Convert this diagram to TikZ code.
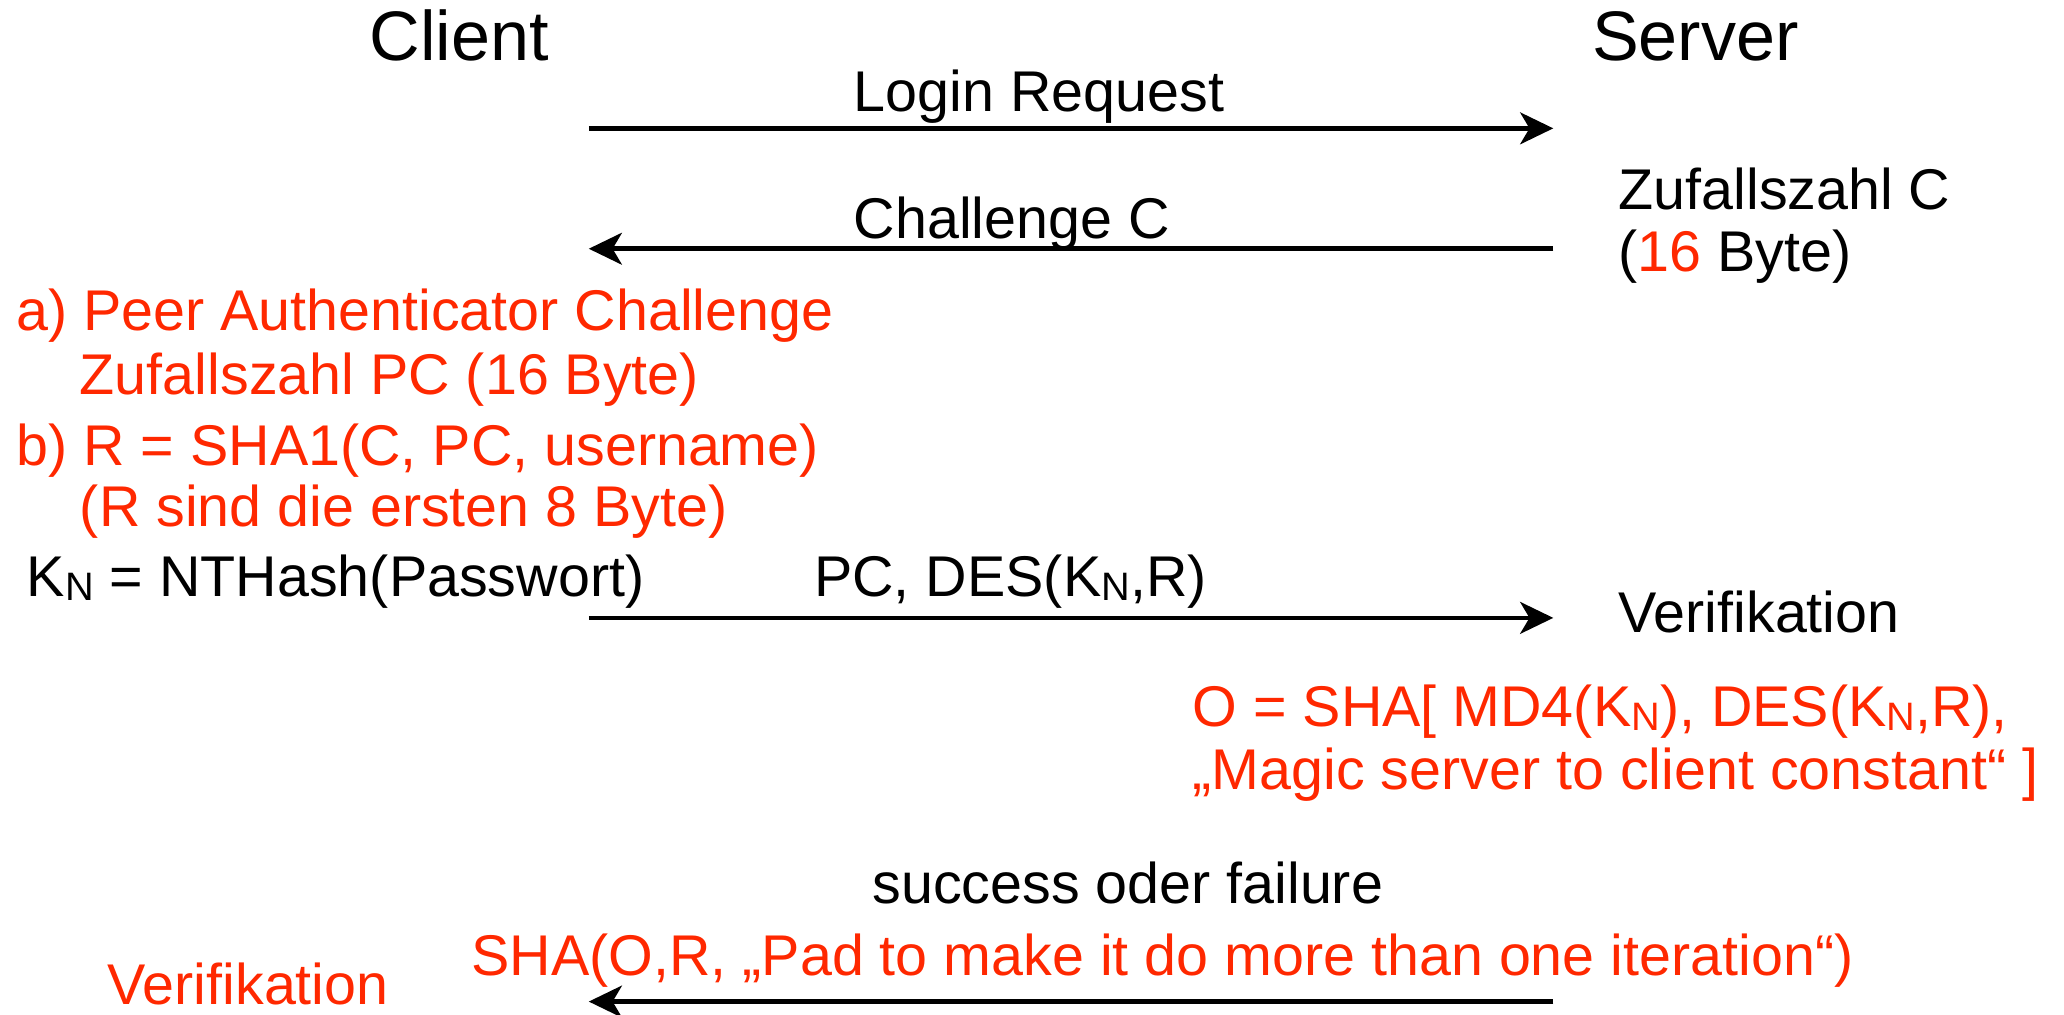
\documentclass[tikz,border=0pt]{standalone}
\usepackage{fontspec}
\setmainfont{Liberation Sans}
\usetikzlibrary{arrows.meta}
\definecolor{hred}{RGB}{255,40,0}
\newcommand{\sN}{\raisebox{-1.5pt}{\fontsize{15}{15}\selectfont N}}
\begin{document}
\begin{tikzpicture}[x=0.5pt,y=-0.5pt,
  txt/.style={anchor=base west,inner sep=0pt,font=\fontsize{21.7}{26}\selectfont},
  big/.style={anchor=base west,inner sep=0pt,font=\fontsize{26.5}{30}\selectfont},
  rtxt/.style={txt,text=hred},
  msg/.style={line width=1.75pt,-{Stealth[length=12.5pt,width=12pt,inset=3.5pt]}}]
\useasboundingbox (0,0) rectangle (1560,767);
% headers
\node[big] (client) at (279,46) {Client};
\node[big] (server) at (1203,46) {Server};
% message 1
\node[txt] (login) at (645,84) {Login Request};
\coordinate (c1) at (445,97);
\coordinate (s1) at (1174,97);
\draw[msg] (c1) -- (s1);
% server random
\node[txt] (zc) at (1223,158) {Zufallszahl C};
\node[txt] (zb) at (1223,205) {(\textcolor{hred}{16} Byte)};
% message 2
\node[txt] (chal) at (645,180) {Challenge C};
\coordinate (s2) at (1174,188);
\coordinate (c2) at (445,188);
\draw[msg] (s2) -- (c2);
% client computations
\node[rtxt] (pa) at (12,250) {a) Peer Authenticator Challenge};
\node[rtxt] (pb) at (60,298) {Zufallszahl PC (16 Byte)};
\node[rtxt] (ra) at (12,352) {b) R = SHA1(C, PC, username)};
\node[rtxt] (rb) at (60,398) {(R sind die ersten 8 Byte)};
\node[txt] (kn) at (20,451) {K\sN\ = NTHash(Passwort)};
% message 3
\node[txt] (pcdes) at (615,451) {PC, DES(K\sN,R)};
\coordinate (c3) at (445,467);
\coordinate (s3) at (1174,467);
\draw[msg] (c3) -- (s3);
\node[txt] (ver1) at (1223,478) {Verifikation};
\node[rtxt] (oa) at (901,549) {O = SHA[ MD4(K\sN), DES(K\sN,R),};
\node[rtxt] (ob) at (901,597) {„Magic server to client constant“ ]};
% message 4
\node[txt] (succ) at (659,683) {success oder failure};
\node[rtxt] (sha) at (356,737) {SHA(O,R, „Pad to make it do more than one iteration“)};
\coordinate (s4) at (1174,757);
\coordinate (c4) at (445,757);
\draw[msg] (s4) -- (c4);
\node[rtxt] (ver2) at (81,759) {Verifikation};
\end{tikzpicture}
\end{document}
